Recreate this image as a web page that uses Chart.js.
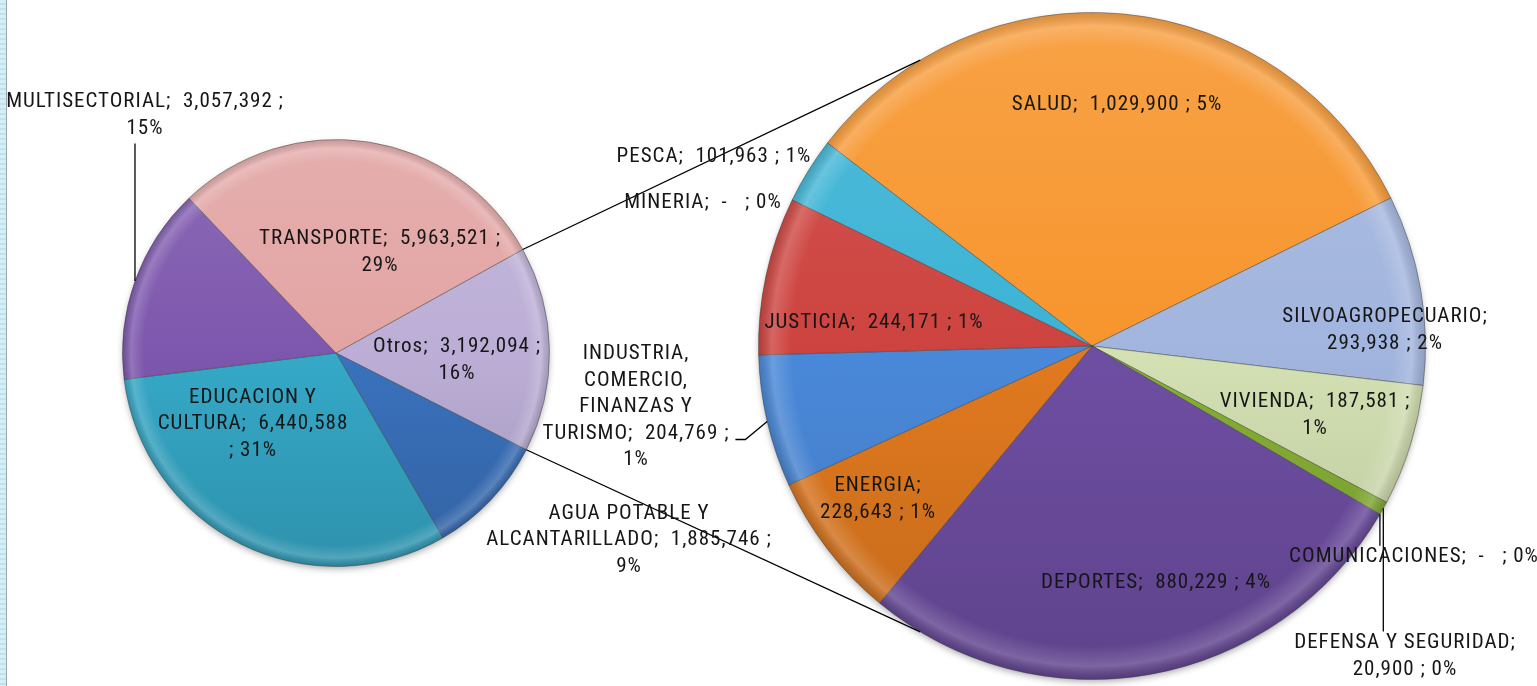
<!DOCTYPE html>
<html>
<head>
<meta charset="utf-8">
<script src="https://cdn.jsdelivr.net/npm/chart.js@4/dist/chart.umd.min.js"></script>
<style>
  body { margin: 0; background: #fff; width: 1537px; height: 686px; overflow: hidden; position: relative; }
  canvas { position: absolute; }
  #edge { position: absolute; left: 0; top: 0; width: 6px; height: 686px;
          background: repeating-linear-gradient(#d6eff5 0 3px, #bfe2eb 3px 5px); border-right: 1px solid #9aa8ab; }
</style>
</head>
<body>
<div id="edge"></div>
<canvas id="main-pie" width="448" height="448" style="left:112px;top:129px"></canvas>
<canvas id="sub-pie" width="688" height="688" style="left:748px;top:2px"></canvas>
<canvas id="overlay" width="1537" height="686" style="left:0;top:0"></canvas>
<script>
// first pie: "Otros" is split out into the second pie
const mainLabels = ["Otros", "AGUA POTABLE Y ALCANTARILLADO", "EDUCACION Y CULTURA", "MULTISECTORIAL", "TRANSPORTE"];
const mainValues = [3192094, 1885746, 6440588, 3057392, 5963521];
const mainPercents = [16, 9, 31, 15, 29];
const mainColors = ["#bcaed6", "#3a72bd", "#35a9c8", "#7d57ad", "#e2a4a3"];

// second pie: breakdown of "Otros"
const subLabels = ["SALUD", "SILVOAGROPECUARIO", "VIVIENDA", "DEFENSA Y SEGURIDAD", "COMUNICACIONES",
                   "DEPORTES", "ENERGIA", "INDUSTRIA, COMERCIO, FINANZAS Y TURISMO", "JUSTICIA", "MINERIA", "PESCA"];
const subValues = [1029900, 293938, 187581, 20900, 0, 880229, 228643, 204769, 244171, 0, 101963];
const subPercents = [5, 2, 1, 0, 0, 4, 1, 1, 1, 0, 1];
const subColors = ["#f7952d", "#a2b5de", "#d4e1b3", "#86b034", "#8fb04a", "#6e4ea3", "#e27a1f", "#4a89da", "#cd433f", "#999999", "#3cb3d5"];

const FONT = '21px "Roboto Condensed", "Liberation Sans Narrow", "Arial Narrow", sans-serif';
const LINE_H = 26.5;

// label placement (block centre, wrap width, leader style)
const mainLabelPos = [
  { x: 457, y: 360, w: 172 },
  { x: 629, y: 540, w: 290 },
  { x: 253, y: 424, w: 192 },
  { x: 145, y: 115, w: 285, leader: "below" },
  { x: 380, y: 252, w: 250 }
];
const subLabelPos = [
  { x: 1117, y: 105, w: 400 },
  { x: 1385, y: 330, w: 230 },
  { x: 1315, y: 415, w: 198 },
  { x: 1405, y: 656, w: 235, leader: "above" },
  { x: 1414, y: 557, w: 400, leader: "above" },
  { x: 1156, y: 583, w: 400 },
  { x: 878, y: 499, w: 120 },
  { x: 636, y: 407, w: 195, leader: "right" },
  { x: 874, y: 323, w: 400 },
  { x: 703, y: 203, w: 400 },
  { x: 714, y: 157, w: 400 }
];

const shade = (hex, amt) => {
  const n = parseInt(hex.slice(1), 16);
  let r = n >> 16, g = (n >> 8) & 255, b = n & 255;
  const f = c => amt >= 0 ? Math.round(c + (255 - c) * amt) : Math.round(c * (1 + amt));
  return `rgb(${f(r)},${f(g)},${f(b)})`;
};

const sliceFill = colors => ctx => {
  const base = colors[ctx.dataIndex];
  const area = ctx.chart.chartArea;
  if (!area) return base;
  const g = ctx.chart.ctx.createLinearGradient(0, area.top, 0, area.bottom);
  g.addColorStop(0, shade(base, 0.12));
  g.addColorStop(0.5, base);
  g.addColorStop(1, shade(base, -0.14));
  return g;
};

// soft shadow under the pie and a bevel rim over it
const pieEffects = {
  id: "pieEffects",
  beforeDatasetsDraw(chart) {
    const arc = chart.getDatasetMeta(0).data[0];
    const c = chart.ctx;
    c.save();
    c.shadowColor = "rgba(0,0,0,0.35)";
    c.shadowBlur = 7;
    c.shadowOffsetY = 3;
    c.fillStyle = "#fff";
    c.beginPath();
    c.arc(arc.x, arc.y, arc.outerRadius - 1, 0, Math.PI * 2);
    c.fill();
    c.restore();
  },
  afterDatasetsDraw(chart) {
    const arc = chart.getDatasetMeta(0).data[0];
    const c = chart.ctx;
    const r = arc.outerRadius;
    const g = c.createRadialGradient(arc.x, arc.y, r * 0.9, arc.x, arc.y, r);
    g.addColorStop(0, "rgba(255,255,255,0)");
    g.addColorStop(0.6, "rgba(255,255,255,0.18)");
    g.addColorStop(1, "rgba(0,0,0,0.12)");
    c.save();
    c.fillStyle = g;
    c.beginPath();
    c.arc(arc.x, arc.y, r, 0, Math.PI * 2);
    c.fill();
    c.restore();
  }
};

const pieOptions = rotation => ({
  responsive: false,
  animation: false,
  rotation,
  layout: { padding: 10 },
  plugins: { legend: { display: false }, tooltip: { enabled: false } }
});

const mainChart = new Chart(document.getElementById("main-pie"), {
  type: "pie",
  data: {
    labels: mainLabels,
    datasets: [{ data: mainValues, backgroundColor: sliceFill(mainColors), borderColor: "rgba(60,60,60,0.45)", borderWidth: 1 }]
  },
  options: pieOptions(61),
  plugins: [pieEffects]
});

const subChart = new Chart(document.getElementById("sub-pie"), {
  type: "pie",
  data: {
    labels: subLabels,
    datasets: [{ data: subValues, backgroundColor: sliceFill(subColors), borderColor: "rgba(60,60,60,0.45)", borderWidth: 1 }]
  },
  options: pieOptions(-52.5),
  plugins: [pieEffects]
});

const fmtValue = v => v === 0 ? "-  " : v.toLocaleString("en-US");

const wrap = (ctx, text, maxW) => {
  const words = text.split(" ");
  const lines = [];
  let line = "";
  words.forEach(w => {
    const test = line === "" ? w : line + " " + w;
    if (line !== "" && ctx.measureText(test.trim()).width > maxW && w !== "") {
      lines.push(line.trim());
      line = w;
    } else {
      line = test;
    }
  });
  if (line.trim() !== "") lines.push(line.trim());
  return lines;
};

const drawOverlay = () => {
  const ov = document.getElementById("overlay");
  const ctx = ov.getContext("2d");
  ctx.font = FONT;
  ctx.letterSpacing = "1px";
  ctx.fillStyle = "#161616";
  ctx.strokeStyle = "#000";
  ctx.lineWidth = 1.3;
  ctx.textAlign = "center";
  ctx.textBaseline = "middle";

  const offset = canvas => ({ x: canvas.offsetLeft, y: canvas.offsetTop });
  const mainOff = offset(mainChart.canvas);
  const subOff = offset(subChart.canvas);
  const mainArcs = mainChart.getDatasetMeta(0).data;
  const subArcs = subChart.getDatasetMeta(0).data;

  // connector lines from the "Otros" slice to the second pie
  const otros = mainArcs[0];
  const subCenter = { x: subArcs[0].x + subOff.x, y: subArcs[0].y + subOff.y };
  const subR = subArcs[0].outerRadius;
  const spread = 59 * Math.PI / 180;
  [[otros.startAngle, Math.PI + spread], [otros.endAngle, Math.PI - spread]].forEach(([a, b]) => {
    ctx.beginPath();
    ctx.moveTo(otros.x + mainOff.x + otros.outerRadius * Math.cos(a), otros.y + mainOff.y + otros.outerRadius * Math.sin(a));
    ctx.lineTo(subCenter.x + subR * Math.cos(b), subCenter.y + subR * Math.sin(b));
    ctx.stroke();
  });

  const drawLabels = (arcs, off, names, values, pcts, layout) => {
    arcs.forEach((arc, i) => {
      const pos = layout[i];
      const text = `${names[i]};  ${fmtValue(values[i])} ; ${pcts[i]}%`;
      const lines = wrap(ctx, text, pos.w);
      const top = pos.y - (lines.length - 1) * LINE_H / 2;
      lines.forEach((l, k) => ctx.fillText(l, pos.x, top + k * LINE_H));

      if (!pos.leader) return;
      const mid = (arc.startAngle + arc.endAngle) / 2;
      const px = arc.x + off.x + arc.outerRadius * Math.cos(mid);
      const py = arc.y + off.y + arc.outerRadius * Math.sin(mid);
      const half = lines.length * LINE_H / 2;
      ctx.beginPath();
      if (pos.leader === "below") {
        ctx.moveTo(px, pos.y + half + 2);
        ctx.lineTo(px, py);
      } else if (pos.leader === "above") {
        ctx.moveTo(px, pos.y - half + 2);
        ctx.lineTo(px, py);
      } else {
        const widest = Math.max(...lines.map(l => ctx.measureText(l).width));
        const sx = pos.x + widest / 2 + 6;
        const sy = top + (lines.length - 2) * LINE_H + 6;
        ctx.moveTo(sx, sy);
        ctx.lineTo(sx + 10, sy);
        ctx.lineTo(px, py);
      }
      ctx.stroke();
    });
  };

  drawLabels(mainArcs, mainOff, mainLabels, mainValues, mainPercents, mainLabelPos);
  drawLabels(subArcs, subOff, subLabels, subValues, subPercents, subLabelPos);
};

drawOverlay();
</script>
</body>
</html>
